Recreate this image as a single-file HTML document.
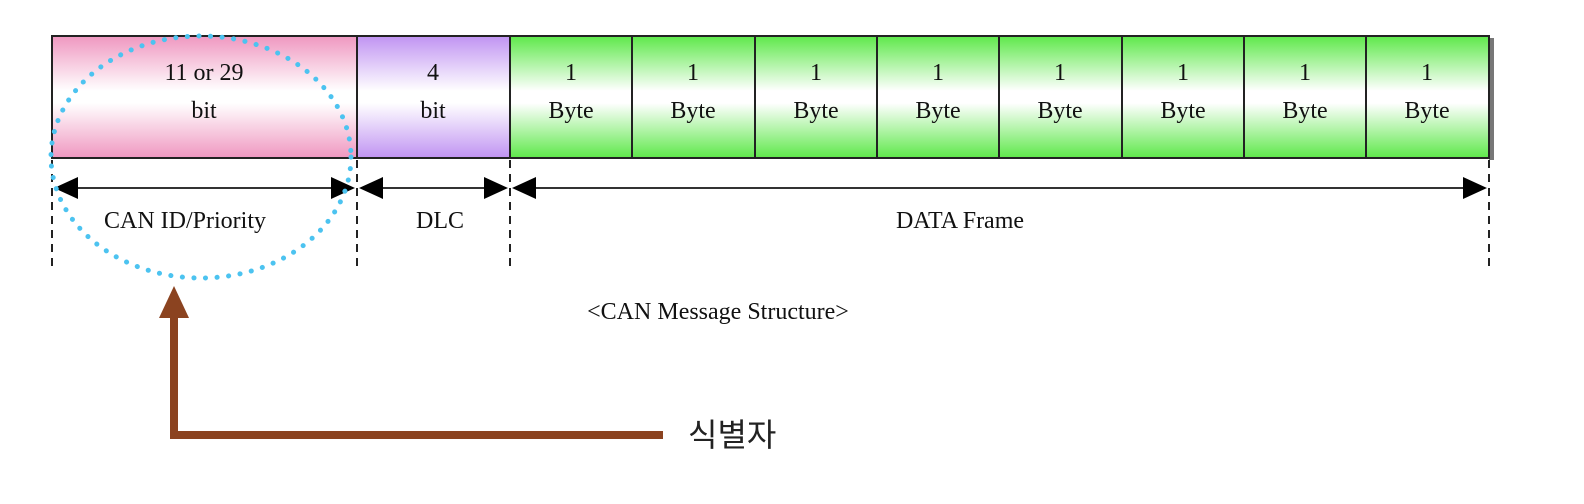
<!DOCTYPE html>
<html><head><meta charset="utf-8"><style>
html,body{margin:0;padding:0;background:#fff;width:1584px;height:504px;overflow:hidden}
</style></head><body>
<svg width="1584" height="504" viewBox="0 0 1584 504" xmlns="http://www.w3.org/2000/svg">
<defs>
<linearGradient id="pk" x1="0" y1="0" x2="0" y2="1"><stop offset="0" stop-color="#ef97c0"/><stop offset="0.45" stop-color="#fff"/><stop offset="0.55" stop-color="#fff"/><stop offset="1" stop-color="#ef97c0"/></linearGradient>
<linearGradient id="pu" x1="0" y1="0" x2="0" y2="1"><stop offset="0" stop-color="#c093f2"/><stop offset="0.45" stop-color="#fff"/><stop offset="0.55" stop-color="#fff"/><stop offset="1" stop-color="#c093f2"/></linearGradient>
<linearGradient id="gr" x1="0" y1="0" x2="0" y2="1"><stop offset="0" stop-color="#5ee84a"/><stop offset="0.45" stop-color="#fff"/><stop offset="0.55" stop-color="#fff"/><stop offset="1" stop-color="#5ee84a"/></linearGradient>
</defs>
<rect x="1489" y="38" width="5" height="122" fill="#777"/>
<rect x="52" y="36" width="305" height="122" fill="url(#pk)" stroke="#222" stroke-width="2"/>
<rect x="357" y="36" width="153" height="122" fill="url(#pu)" stroke="#222" stroke-width="2"/>
<g fill="url(#gr)" stroke="#222" stroke-width="2">
<rect x="510" y="36" width="122" height="122"/><rect x="632" y="36" width="123" height="122"/>
<rect x="755" y="36" width="122" height="122"/><rect x="877" y="36" width="122" height="122"/>
<rect x="999" y="36" width="123" height="122"/><rect x="1122" y="36" width="122" height="122"/>
<rect x="1244" y="36" width="122" height="122"/><rect x="1366" y="36" width="123" height="122"/>
</g>
<g font-family="Liberation Serif, serif" font-size="24" fill="#111" text-anchor="middle">
<text x="204" y="80">11 or 29</text><text x="204" y="118">bit</text>
<text x="433" y="80">4</text><text x="433" y="118">bit</text>
<text x="571" y="80">1</text><text x="571" y="118">Byte</text>
<text x="693" y="80">1</text><text x="693" y="118">Byte</text>
<text x="816" y="80">1</text><text x="816" y="118">Byte</text>
<text x="938" y="80">1</text><text x="938" y="118">Byte</text>
<text x="1060" y="80">1</text><text x="1060" y="118">Byte</text>
<text x="1183" y="80">1</text><text x="1183" y="118">Byte</text>
<text x="1305" y="80">1</text><text x="1305" y="118">Byte</text>
<text x="1427" y="80">1</text><text x="1427" y="118">Byte</text>
<text x="185" y="228">CAN ID/Priority</text>
<text x="440" y="228">DLC</text>
<text x="960" y="228">DATA Frame</text>
<text x="718" y="319">&lt;CAN Message Structure&gt;</text>
</g>
<g stroke="#222" stroke-width="2" stroke-dasharray="8,6">
<line x1="52" y1="160" x2="52" y2="270"/><line x1="357" y1="160" x2="357" y2="270"/>
<line x1="510" y1="160" x2="510" y2="270"/><line x1="1489" y1="160" x2="1489" y2="270"/>
</g>
<g stroke="#333" stroke-width="2">
<line x1="56" y1="188" x2="353" y2="188"/><line x1="361" y1="188" x2="506" y2="188"/><line x1="514" y1="188" x2="1485" y2="188"/>
</g>
<g fill="#000">
<polygon points="54,188 78,177 78,199"/><polygon points="355,188 331,177 331,199"/>
<polygon points="359,188 383,177 383,199"/><polygon points="508,188 484,177 484,199"/>
<polygon points="512,188 536,177 536,199"/><polygon points="1487,188 1463,177 1463,199"/>
</g>
<ellipse cx="201" cy="157" rx="150" ry="121" fill="none" stroke="#4cc3f0" stroke-width="5" stroke-linecap="round" stroke-dasharray="0.1,11.5"/>
<g fill="#8b4320">
<rect x="170" y="315" width="8" height="124"/><rect x="170" y="431" width="493" height="8"/>
<polygon points="174,286 159,318 189,318"/>
</g>
<text x="688" y="446" font-family="Liberation Sans, 'Noto Sans CJK KR', sans-serif" font-size="32" fill="#222">식별자</text>
</svg>
</body></html>
